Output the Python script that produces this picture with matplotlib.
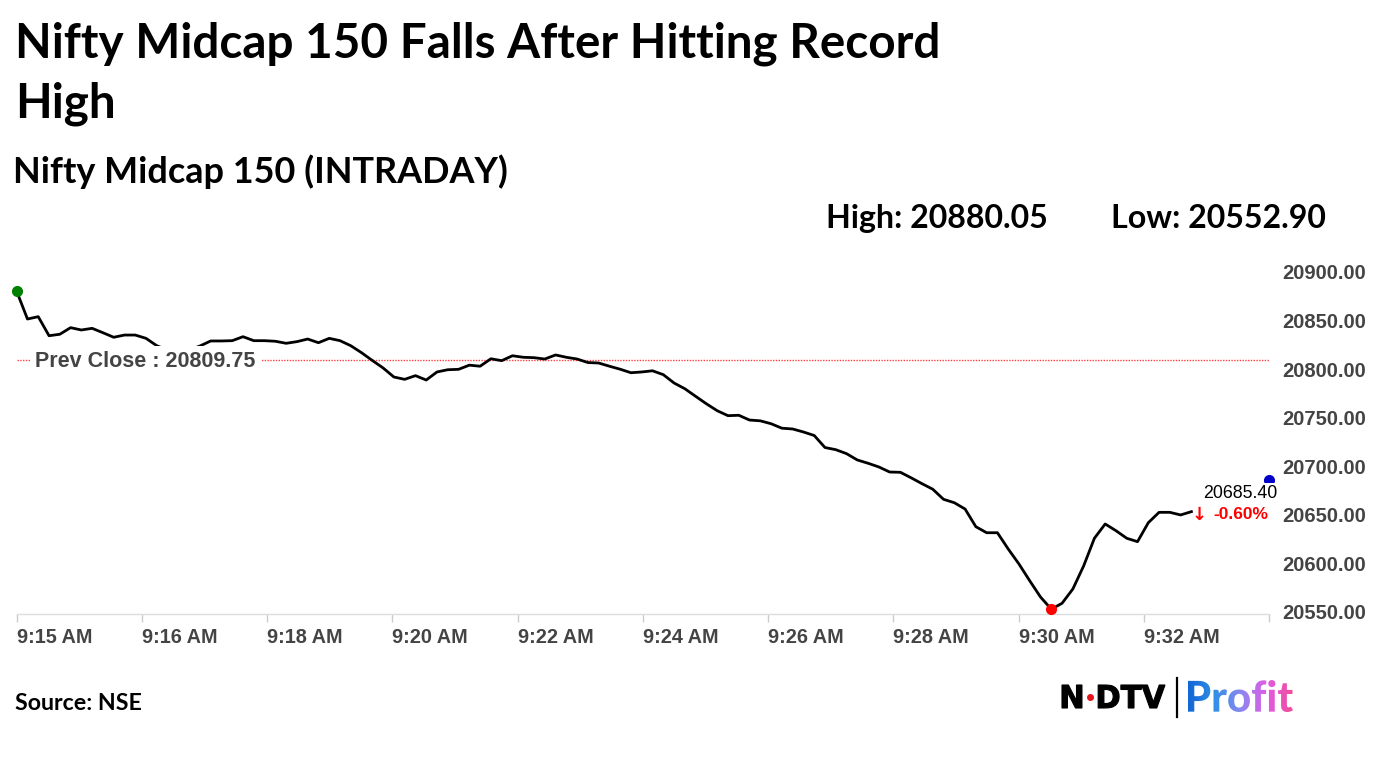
"""
Nifty Midcap 150 intraday line chart (NDTV Profit style)
"""

import numpy as np
import matplotlib
matplotlib.use("Agg")
import matplotlib.pyplot as plt
from matplotlib.textpath import TextPath
from matplotlib.patches import PathPatch
from matplotlib.font_manager import FontProperties
from matplotlib.transforms import Affine2D
from matplotlib.colors import LinearSegmentedColormap

# ---- data ----
prices = [
    20880.05, 20851.6, 20854.0, 20834.4, 20835.9, 20842.7, 20840.3, 20842.0, 20837.5, 20832.8,
    20835.1, 20835.1, 20831.7, 20824.1, 20819.7, 20817.6, 20819.7, 20823.8, 20829.0, 20829.0,
    20829.3, 20833.4, 20829.3, 20829.3, 20828.7, 20826.6, 20828.3, 20831.0, 20827.2, 20831.7,
    20829.3, 20824.1, 20816.9, 20808.9, 20801.2, 20791.9, 20789.5, 20793.3, 20788.8, 20797.1,
    20799.4, 20799.8, 20804.1, 20803.0, 20810.7, 20808.7, 20813.8, 20812.2, 20811.8, 20810.4,
    20814.6, 20812.2, 20810.4, 20806.8, 20806.3, 20803.0, 20799.9, 20796.3, 20797.1, 20798.3,
    20794.3, 20785.7, 20779.8, 20772.0, 20764.3, 20757.2, 20752.1, 20752.5, 20747.6, 20746.8,
    20743.8, 20739.2, 20738.4, 20735.3, 20731.7, 20719.3, 20717.1, 20713.0, 20706.5, 20703.1,
    20699.3, 20694.1, 20693.8, 20688.1, 20682.1, 20676.4, 20666.0, 20662.5, 20656.0, 20637.8,
    20631.6, 20631.6, 20614.9, 20599.4, 20582.1, 20565.4, 20552.90, 20559.0, 20573.7, 20597.4,
    20625.9, 20640.6, 20633.7, 20625.9, 20622.4, 20641.9, 20652.6, 20652.6, 20649.9, 20653.3,
]
tick_labels = ["9:15 AM", "9:16 AM", "9:18 AM", "9:20 AM", "9:22 AM", "9:24 AM",
               "9:26 AM", "9:28 AM", "9:30 AM", "9:32 AM", ""]
y_ticks = [20550, 20600, 20650, 20700, 20750, 20800, 20850, 20900]
prev_close = 20809.75
day_high = 20880.05
day_low = 20552.90
last_price = 20685.40
change_pct = -0.60

W, H = 1382, 777
ARIAL = "Liberation Sans"
HEAD = "Lato"

fig = plt.figure(figsize=(W / 100, H / 100), dpi=100)
fig.patch.set_facecolor("white")

# main plot area
ax = fig.add_axes([16.7 / W, (H - 614) / H, (1269 - 16.7) / W, (614 - 262) / H])
x = np.arange(len(prices))
x_end = 116.2  # last category slot (right edge of the axis)

ax.plot(x, prices, color="black", lw=2.0, zorder=3, solid_joinstyle="round")
ax.axhline(prev_close, color="#ff4040", lw=1, ls=(0, (1, 1)), zorder=2)

ax.plot(0, day_high, "o", color="#008000", ms=7, clip_on=False, zorder=6)
ax.plot(int(np.argmin(prices)), day_low, "o", color="#ff0000", ms=7, clip_on=False, zorder=6)
ax.plot(x_end, last_price, "o", color="#0000c8", ms=7, clip_on=False, zorder=4)

ax.set_xlim(0, x_end)
ax.set_ylim(20547.94, 20910.29)

ax.set_xticks(np.linspace(0, x_end, len(tick_labels)))
ax.set_xticklabels(tick_labels, ha="left")
ax.tick_params(axis="x", length=6, width=1, color="#cccccc", pad=4,
               labelsize=14.3, labelcolor="#444444")
for lab in ax.get_xticklabels():
    lab.set_fontfamily(ARIAL)
    lab.set_fontweight("bold")

ax.yaxis.tick_right()
ax.set_yticks(y_ticks)
ax.set_yticklabels([f"{v:.2f}" for v in y_ticks])
ax.tick_params(axis="y", length=0, pad=9.4, labelsize=14.5, labelcolor="#444444")
for lab in ax.get_yticklabels():
    lab.set_fontfamily(ARIAL)
    lab.set_fontweight("bold")

for side in ("top", "left", "right"):
    ax.spines[side].set_visible(False)
ax.spines["bottom"].set_color("#dddddd")
ax.spines["bottom"].set_linewidth(1)

ax.annotate(f"Prev Close : {prev_close:.2f}", xy=(0, prev_close),
            xycoords=("axes fraction", "data"), xytext=(13.2, -1.5),
            textcoords="offset points", ha="left", va="center",
            fontsize=15.5, fontweight="bold", color="#444444", family=ARIAL,
            bbox=dict(boxstyle="square,pad=0.25", fc="white", ec="none"), zorder=5)

ax.annotate(f"{last_price:.2f}", xy=(x_end, last_price), xytext=(-20.9, -9.6),
            textcoords="offset points", ha="center", va="center",
            fontsize=12.8, color="black", family=ARIAL,
            bbox=dict(boxstyle="square,pad=0.15", fc="white", ec="none"),
            zorder=5, annotation_clip=False)
ax.annotate("\u2193", xy=(x_end, last_price), xytext=(-50.0, -24.5),
            textcoords="offset points", ha="center", va="center",
            fontsize=13, fontweight="bold", color="#ff0000",
            family="DejaVu Sans", zorder=5, annotation_clip=False)
ax.annotate(f"{change_pct:.2f}%", xy=(x_end, last_price), xytext=(-20.5, -24.5),
            textcoords="offset points", ha="center", va="center",
            fontsize=12.5, fontweight="bold", color="#ff0000",
            family=ARIAL, zorder=5, annotation_clip=False)

# headings
def ftext(px, py, s, **kw):
    fig.text(px / W, 1 - py / H, s, va="baseline", ha="left", **kw)

ftext(15, 57, "Nifty Midcap 150 Falls After Hitting Record", fontsize=34.3,
      fontweight="bold", family=HEAD)
ftext(15, 118, "High", fontsize=34.3, fontweight="bold", family=HEAD)
ftext(13, 183, "Nifty Midcap 150 (INTRADAY)", fontsize=25.9, fontweight="bold", family=HEAD)
ftext(826, 228, f"High: {day_high:.2f}", fontsize=23.1, fontweight="bold", family=HEAD)
ftext(1111, 228, f"Low: {day_low:.2f}", fontsize=23.1, fontweight="bold", family=HEAD)
ftext(15, 710, "Source: NSE", fontsize=16.7, fontweight="bold", family=HEAD)

# NDTV | Profit logo
lax = fig.add_axes([1055 / W, (H - 725) / H, 245 / W, 55 / H])
lax.set_xlim(0, 245)
lax.set_ylim(0, 55)
lax.axis("off")


def fit_path(text, prop, x0, y0, w, h):
    tp = TextPath((0, 0), text, size=10, prop=prop)
    ext = tp.get_extents()
    tr = (Affine2D().translate(-ext.x0, -ext.y0)
          .scale(w / ext.width, h / ext.height).translate(x0, y0))
    return tr.transform_path(tp)


ndtv = fit_path("N DTV", FontProperties(family="DejaVu Sans", weight="bold"), 7, 17, 103, 23)
lax.add_patch(PathPatch(ndtv, fc="black", ec="black", lw=0.8))
lax.plot(35, 28.5, "o", color="#e8141b", ms=4)
lax.plot([122, 122], [8, 47], color="black", lw=1.6)

profit = fit_path("Profit", FontProperties(family=HEAD, weight=900), 133, 13, 105, 32)
clip = PathPatch(profit, fc="none", ec="none", transform=lax.transData)
lax.add_patch(clip)
grad_cmap = LinearSegmentedColormap.from_list(
    "profit", ["#1366d6", "#2f8fe6", "#8a88f0", "#e05ce6", "#f04c98"])
im = lax.imshow(np.linspace(0, 1, 256).reshape(1, -1), cmap=grad_cmap,
                extent=(133, 238, 13, 45), aspect="auto", clip_path=clip)
lax.set_xlim(0, 245)
lax.set_ylim(0, 55)

fig.savefig("out.png", dpi=100, facecolor="white")
